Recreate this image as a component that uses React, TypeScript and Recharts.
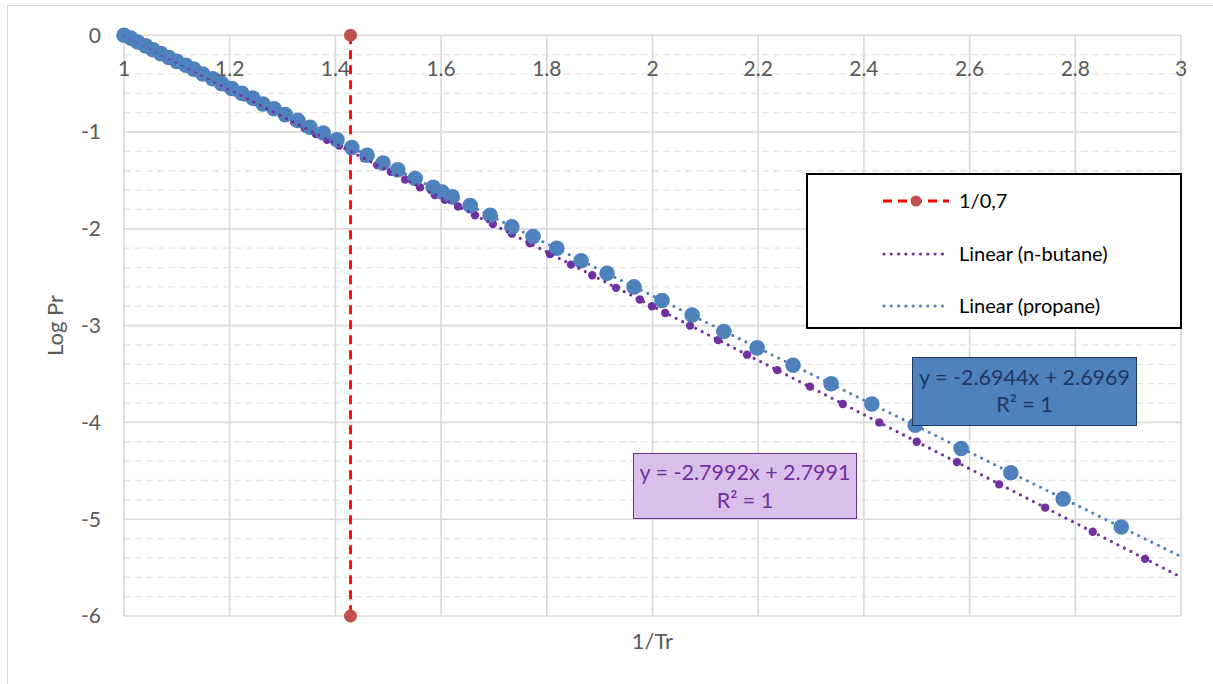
import React from 'react';
import { ComposedChart, Scatter, XAxis, YAxis, CartesianGrid, Legend } from 'recharts';

const FONT = 'Lato, "Open Sans", sans-serif';

// axis ticks
const X_TICKS = [1, 1.2, 1.4, 1.6, 1.8, 2, 2.2, 2.4, 2.6, 2.8, 3];
const Y_TICKS = [0, -1, -2, -3, -4, -5, -6];
const Y_MINOR = [
  -0.2, -0.4, -0.6, -0.8, -1.2, -1.4, -1.6, -1.8, -2.2, -2.4, -2.6, -2.8,
  -3.2, -3.4, -3.6, -3.8, -4.2, -4.4, -4.6, -4.8, -5.2, -5.4, -5.6, -5.8,
];

// propane: 1/Tr vs log Pr
const propaneX = [
  1.0, 1.013, 1.026, 1.041, 1.055, 1.07, 1.085, 1.1, 1.117, 1.132, 1.149, 1.168,
  1.185, 1.204, 1.223, 1.244, 1.263, 1.284, 1.305, 1.329, 1.352, 1.377, 1.403,
  1.431, 1.46, 1.49, 1.518, 1.551, 1.585, 1.602, 1.621, 1.655, 1.693, 1.734,
  1.774, 1.819, 1.865, 1.914, 1.965, 2.018, 2.075, 2.135, 2.198, 2.266, 2.338,
  2.415, 2.497, 2.584, 2.678, 2.777, 2.887,
];
const propaneY = [
  0, -0.03, -0.07, -0.11, -0.15, -0.19, -0.23, -0.27, -0.31, -0.35, -0.4, -0.45,
  -0.5, -0.55, -0.6, -0.65, -0.71, -0.76, -0.82, -0.88, -0.95, -1.01, -1.08,
  -1.16, -1.24, -1.32, -1.39, -1.48, -1.57, -1.62, -1.67, -1.76, -1.86, -1.98,
  -2.08, -2.2, -2.33, -2.46, -2.6, -2.74, -2.89, -3.06, -3.23, -3.41, -3.6,
  -3.81, -4.03, -4.27, -4.52, -4.79, -5.08,
];

// n-butane
const butaneX = [
  1.0, 1.011, 1.025, 1.036, 1.049, 1.062, 1.076, 1.089, 1.102, 1.117, 1.131,
  1.146, 1.161, 1.178, 1.193, 1.21, 1.227, 1.246, 1.263, 1.282, 1.301, 1.322,
  1.342, 1.363, 1.384, 1.407, 1.429, 1.454, 1.479, 1.505, 1.532, 1.56, 1.588,
  1.607, 1.632, 1.664, 1.698, 1.734, 1.768, 1.806, 1.846, 1.886, 1.931, 1.976,
  1.999, 2.024, 2.071, 2.124, 2.179, 2.236, 2.298, 2.36, 2.429, 2.5, 2.576,
  2.656, 2.743, 2.833, 2.932,
];
const butaneY = [
  0, -0.03, -0.07, -0.1, -0.14, -0.17, -0.21, -0.25, -0.29, -0.33, -0.37,
  -0.41, -0.45, -0.5, -0.54, -0.59, -0.64, -0.69, -0.74, -0.79, -0.84, -0.9,
  -0.96, -1.02, -1.08, -1.14, -1.2, -1.27, -1.34, -1.41, -1.49, -1.57, -1.65,
  -1.7, -1.77, -1.86, -1.95, -2.05, -2.15, -2.26, -2.37, -2.48, -2.61, -2.73,
  -2.8, -2.87, -3.0, -3.15, -3.3, -3.46, -3.63, -3.81, -4.0, -4.2, -4.41,
  -4.64, -4.88, -5.13, -5.41,
];

// 1/0,7 marker line
const refX = [1.4286, 1.4286];
const refY = [0, -6];

// linear trendlines (end points)
const propaneTrendX = [1, 3];
const propaneTrendY = [0.0025, -5.3863];
const butaneTrendX = [1, 3];
const butaneTrendY = [-0.0001, -5.5985];

const zip = (xs: number[], ys: number[]) => xs.map((x, i) => ({ x, y: ys[i] }));

const propaneData = zip(propaneX, propaneY);
const butaneData = zip(butaneX, butaneY);
const refData = zip(refX, refY);
const propaneTrend = zip(propaneTrendX, propaneTrendY);
const butaneTrend = zip(butaneTrendX, butaneTrendY);

const BLUE = '#4F81BD';
const PURPLE = '#7030A0';
const RED = '#FF0000';
const RED_MARKER = '#C0504D';
const AXIS_TEXT = '#595959';

const LEGEND_ITEMS = [
  { label: '1/0,7', kind: 'dash', color: RED, marker: RED_MARKER },
  { label: 'Linear (n-butane)', kind: 'dot', color: PURPLE },
  { label: 'Linear (propane)', kind: 'dot', color: BLUE },
];

const dotShape = (r: number, fill: string) => (props: any) =>
  <circle cx={props.cx} cy={props.cy} r={r} fill={fill} />;

const noShape = () => <g />;

const fmtTick = (v: number) => String(Number(v.toFixed(1)));

const XTick = (props: any) => (
  <text x={props.x} y={67} textAnchor="middle" dominantBaseline="central"
    fill={AXIS_TEXT} fontSize={21} fontFamily={FONT}>
    {fmtTick(props.payload.value)}
  </text>
);

const LegendBox = () => (
  <div style={{ position: 'relative', width: 376, height: 156, boxSizing: 'border-box',
    border: '2px solid #000', background: '#fff', fontFamily: FONT }}>
    {LEGEND_ITEMS.map((item, i) => (
      <div key={item.label} style={{ position: 'absolute', left: 0, top: 11 + i * 52.5, height: 30, width: '100%' }}>
        <svg width={70} height={30} style={{ position: 'absolute', left: 73, top: 0 }}>
          {item.kind === 'dash' ? (
            <>
              <line x1={2} y1={15} x2={68} y2={15} stroke={item.color} strokeWidth={2.8} strokeDasharray="9 6" />
              <circle cx={35} cy={15} r={5.5} fill={item.marker} />
            </>
          ) : (
            <line x1={3} y1={15} x2={67} y2={15} stroke={item.color} strokeWidth={3.2}
              strokeDasharray="0 7.3" strokeLinecap="round" />
          )}
        </svg>
        <span style={{ position: 'absolute', left: 151, top: 2, fontSize: 20, color: '#000', whiteSpace: 'nowrap' }}>
          {item.label}
        </span>
      </div>
    ))}
  </div>
);

export default function App() {
  return (
    <div style={{ position: 'absolute', left: 0, top: 0, width: 1213, height: 684, background: '#fff',
      overflow: 'hidden', fontFamily: FONT }}>
      <div style={{ position: 'absolute', left: 7, top: 5, width: 1206, height: 679,
        borderLeft: '1px solid #D9D9D9', borderTop: '1px solid #D9D9D9' }} />
      <ComposedChart width={1213} height={684} margin={{ top: 35, right: 32, bottom: 0, left: 0 }}>
        <CartesianGrid horizontalValues={Y_MINOR} vertical={false} stroke="#E6E6E6"
          strokeDasharray="7 4" strokeWidth={1.3} />
        <CartesianGrid horizontalValues={Y_TICKS} verticalValues={X_TICKS} stroke="#D9D9D9" strokeWidth={1.6} />
        <XAxis type="number" dataKey="x" domain={[1, 3]} ticks={X_TICKS} height={68}
          axisLine={false} tickLine={false} tick={XTick} interval={0}
          label={{ value: '1/Tr', position: 'insideBottom', offset: 35, fill: AXIS_TEXT, fontSize: 22, fontFamily: FONT }} />
        <YAxis type="number" dataKey="y" domain={[-6, 0]} ticks={Y_TICKS} width={124}
          axisLine={false} tickLine={false} tickSize={0} tickMargin={23} interval={0}
          tick={{ fill: AXIS_TEXT, fontSize: 21, fontFamily: FONT }}
          label={{ value: 'Log Pr', angle: -90, position: 'insideLeft', offset: 55,
            style: { textAnchor: 'middle' }, fill: AXIS_TEXT, fontSize: 22, fontFamily: FONT }} />
        <Legend content={<LegendBox />} layout="horizontal" verticalAlign="middle" align="center"
          wrapperStyle={{ left: 806, top: 173, width: 376, height: 156 }} />
        <Scatter name="1/0,7" data={refData} fill={RED_MARKER} shape={dotShape(6.5, RED_MARKER)}
          line={{ stroke: RED, strokeWidth: 2.8, strokeDasharray: '9 6' }} isAnimationActive={false} />
        <Scatter name="n-butane" data={butaneData} fill={PURPLE} shape={dotShape(4.2, PURPLE)} isAnimationActive={false} />
        <Scatter name="propane" data={propaneData} fill={BLUE} shape={dotShape(7.8, BLUE)} isAnimationActive={false} />
        <Scatter name="Linear (n-butane)" data={butaneTrend} fill={PURPLE} shape={noShape}
          line={{ stroke: PURPLE, strokeWidth: 3.2, strokeDasharray: '0 7.3', strokeLinecap: 'round' }}
          isAnimationActive={false} />
        <Scatter name="Linear (propane)" data={propaneTrend} fill={BLUE} shape={noShape}
          line={{ stroke: BLUE, strokeWidth: 3.2, strokeDasharray: '0 7.3', strokeLinecap: 'round' }}
          isAnimationActive={false} />
      </ComposedChart>
      <div style={{ position: 'absolute', left: 912, top: 357, width: 225, height: 69, boxSizing: 'border-box',
        background: BLUE, border: '1.5px solid #1F3864', color: '#1F3864', fontSize: 21.5,
        textAlign: 'center', lineHeight: '27px', paddingTop: 6 }}>
        <div>y = -2.6944x + 2.6969</div>
        <div>R² = 1</div>
      </div>
      <div style={{ position: 'absolute', left: 633, top: 453, width: 224, height: 66, boxSizing: 'border-box',
        background: '#D9BFE9', border: '1.5px solid ' + PURPLE, color: PURPLE, fontSize: 21.5,
        textAlign: 'center', lineHeight: '28px', paddingTop: 4 }}>
        <div>y = -2.7992x + 2.7991</div>
        <div>R² = 1</div>
      </div>
    </div>
  );
}
